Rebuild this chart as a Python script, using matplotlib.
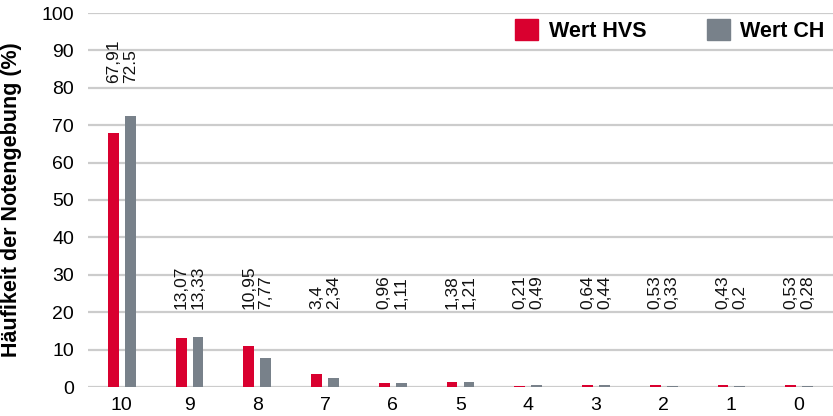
import matplotlib
matplotlib.use("Agg")
import matplotlib.pyplot as plt
from matplotlib.patches import Patch
import numpy as np

categories = ["10", "9", "8", "7", "6", "5", "4", "3", "2", "1", "0"]
hvs = [67.91, 13.07, 10.95, 3.4, 0.96, 1.38, 0.21, 0.64, 0.53, 0.43, 0.53]
ch = [72.5, 13.33, 7.77, 2.34, 1.11, 1.21, 0.49, 0.44, 0.33, 0.2, 0.28]
hvs_labels = ["67,91", "13,07", "10,95", "3,4", "0,96", "1,38", "0,21", "0,64", "0,53", "0,43", "0,53"]
ch_labels = ["72.5", "13,33", "7,77", "2,34", "1,11", "1,21", "0,49", "0,44", "0,33", "0,2", "0,28"]
yticks = [0, 10, 20, 30, 40, 50, 60, 70, 80, 90, 100]

RED = "#d9002f"
GRAY = "#78818a"
FONT = "Liberation Sans"

plt.rcParams["font.family"] = [FONT, "DejaVu Sans"]

fig = plt.figure(figsize=(8.33, 4.16), dpi=100)
ax = fig.add_axes([88/833, 29/416, 1 - 88/833, (387-13)/416])

x = np.arange(len(categories))
w = 0.16
off = 0.125
ax.bar(x - off, hvs, width=w, color=RED, zorder=3)
ax.bar(x + off, ch, width=w, color=GRAY, zorder=3)

for i in range(len(categories)):
    ly = max(max(hvs[i], ch[i]) * 1.12, 20.8)
    ax.text(x[i] - off, ly, hvs_labels[i], rotation=90, ha="center", va="bottom",
            fontsize=12.5, color="#111111")
    ax.text(x[i] + off, ly, ch_labels[i], rotation=90, ha="center", va="bottom",
            fontsize=12.5, color="#111111")

ax.set_xlim(-0.5, len(categories) - 0.5)
ax.set_ylim(0, 100)
ax.set_yticks(yticks)
ax.set_yticklabels([str(t) for t in yticks], fontsize=14)
ax.set_xticks(x)
ax.set_xticklabels(categories, fontsize=14)
ax.tick_params(axis="both", length=0)
ax.tick_params(axis="y", pad=10)
ax.tick_params(axis="x", pad=7)
for s in ax.spines.values():
    s.set_visible(False)
ax.yaxis.grid(True, color="#cccccc", linewidth=1.6, zorder=0)
ax.set_axisbelow(True)
ax.set_ylabel("Häufikeit der Notengebung (%)", fontsize=15.5, fontweight="bold")
ax.yaxis.set_label_coords(-66/745, 0.5)

handles = [Patch(color=RED, label="Wert HVS"), Patch(color=GRAY, label="Wert CH")]
leg = ax.legend(handles=handles, loc="center right", bbox_to_anchor=(0.989, 0.953), ncol=2,
                frameon=False, prop={"family": FONT, "weight": "bold", "size": 15.5},
                handlelength=1.07, handleheight=1.07, handletextpad=0.5, columnspacing=2.8,
                borderaxespad=0, borderpad=0)

fig.savefig("out.png", dpi=100, facecolor="white")
